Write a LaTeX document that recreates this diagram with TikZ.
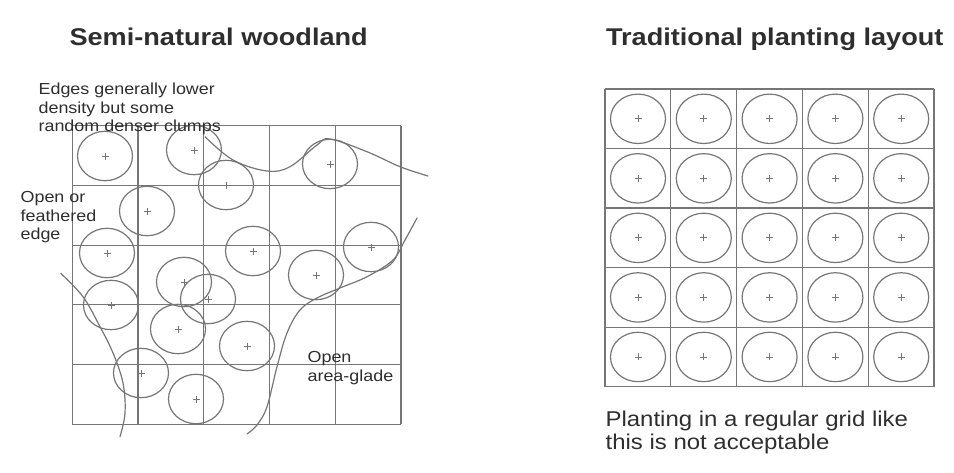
\documentclass[tikz,border=0pt]{standalone}
\usepackage{fontspec}
\setmainfont{Liberation Sans}[FakeStretch=1.12]
\usetikzlibrary{positioning}
\definecolor{linegrey}{HTML}{767676}
\definecolor{textgrey}{HTML}{2E2E2E}
\tikzset{every picture/.style={line width=1.2pt}}
\tikzset{
  gridline/.style={draw=linegrey},
  edgeline/.style={draw=linegrey, line cap=round},
  heading/.style={anchor=base west, text=textgrey, inner sep=0pt, font=\fontsize{24.2}{28}\selectfont\bfseries},
  remark/.style={anchor=base west, text=textgrey, inner sep=0pt, align=left, font=\fontsize{16}{18.3}\selectfont},
  tree/.pic={
    \draw[linegrey] (0,0) ellipse [x radius=27.5, y radius=24.7];
    \draw[linegrey, line width=0.8pt] (-3.5,0) -- (3.5,0) (0,-3.5) -- (0,3.5);
  }
}

\begin{document}
\begin{tikzpicture}[x=1pt, y=-1pt]
    \useasboundingbox (0,0) rectangle (954,472);

    % left: semi-natural woodland
    \node[heading] (semi) at (69,45) {Semi-natural woodland};
    \foreach \i in {0,...,5} {
        \draw[gridline] ({72.3+65.74*\i},125.7) -- ++(0,298.6);
        \draw[gridline] (72.3,{125.7+59.72*\i}) -- ++(328.7,0);
    }
    \foreach \tx/\ty in {105/156, 194/150, 226/185, 330/164, 147/211, 107/253,
                         253/251, 371/247, 316/275, 184/282, 208/299, 111/305,
                         178/329, 247/346, 141/373, 196/399}
        \pic at (\tx,\ty) {tree};

    \draw[edgeline] plot[smooth, tension=0.6] coordinates {(205,136.7) (233,160) (267,171) (290,166.7) (317,145) (330,139) (367,151.7) (400,166.7) (428,176)};
    \draw[edgeline] plot[smooth, tension=0.6] coordinates {(417,218) (405,240) (393,260) (367,276.7) (340,288) (317,298) (300,310) (287,333) (277,366.7) (267,406.7) (257,425) (247,434)};
    \draw[edgeline] plot[smooth, tension=0.6] coordinates {(60.7,273.3) (83,296.7) (100,326.7) (113,353) (123,383) (125,413) (120,436.7)};

    % base anchor of a multi-line node sits on its last line
    \node[remark] (clumps) at (38,131.3) {Edges generally lower\\density but some\\random denser clumps};
    \node[remark] (feather) at (20,239.3) {Open or\\feathered\\edge};
    \node[remark] (glade) at (307,381) {Open\\area-glade};

    % right: traditional planting layout
    \node[heading] (trad) at (605.5,45.8) {Traditional planting layout};
    \foreach \i in {0,...,5} {
        \draw[gridline] ({605+65.8*\i},89) -- ++(0,297.7);
        \draw[gridline] (605,{89+59.54*\i}) -- ++(329,0);
    }
    \foreach \col in {0,...,4}
        \foreach \row in {0,...,4}
            \pic at ({638+65.8*\col},{118.8+59.54*\row}) {tree};

    \node[remark, font=\fontsize{21.4}{23}\selectfont] (rule) at (605,449.7) {Planting in a regular grid like\\this is not acceptable};
\end{tikzpicture}
\end{document}
